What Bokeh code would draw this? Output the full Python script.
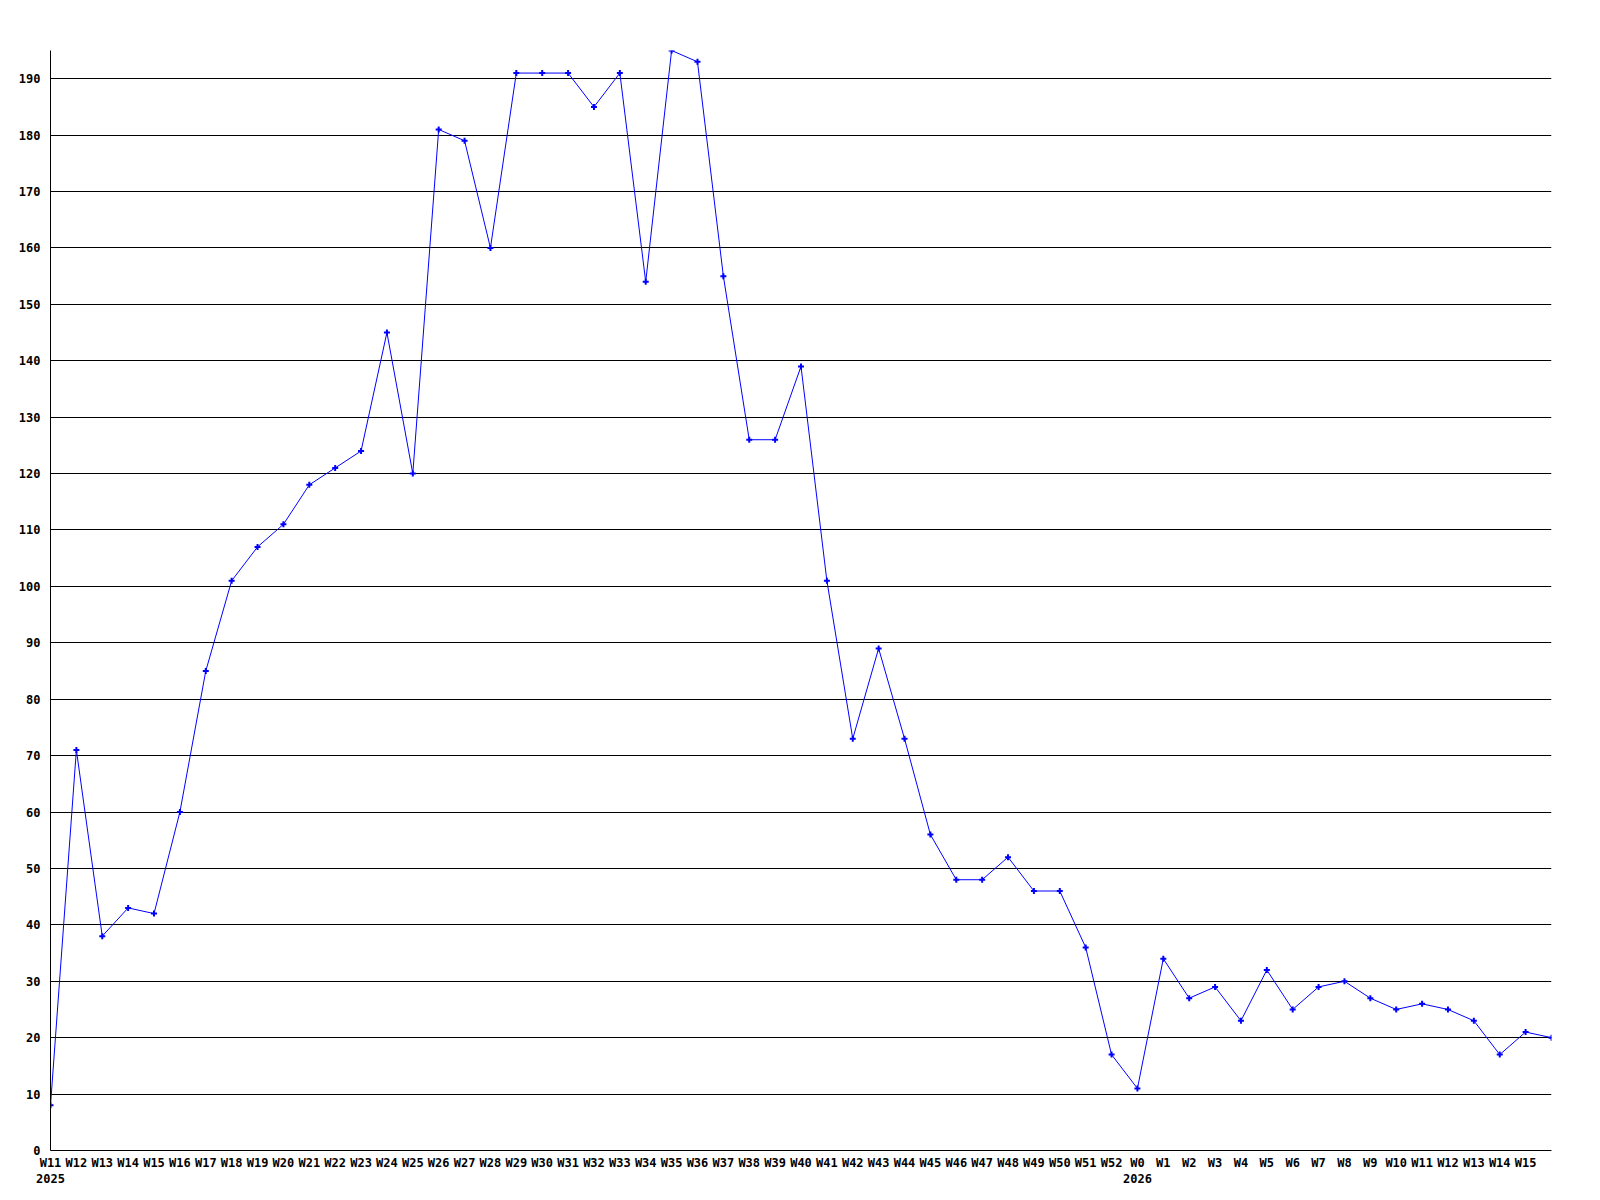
from bokeh.plotting import figure
from bokeh.models import FixedTicker, Range1d
from bokeh.embed import file_html
from bokeh.resources import INLINE

week_labels = ["W11\n2025", "W12", "W13", "W14", "W15", "W16", "W17", "W18", "W19", "W20",
               "W21", "W22", "W23", "W24", "W25", "W26", "W27", "W28", "W29", "W30",
               "W31", "W32", "W33", "W34", "W35", "W36", "W37", "W38", "W39", "W40",
               "W41", "W42", "W43", "W44", "W45", "W46", "W47", "W48", "W49", "W50",
               "W51", "W52", "W0\n2026", "W1", "W2", "W3", "W4", "W5", "W6", "W7",
               "W8", "W9", "W10", "W11", "W12", "W13", "W14", "W15", ""]

values = [8, 71, 38, 43, 42, 60, 85, 101, 107, 111,
          118, 121, 124, 145, 120, 181, 179, 160, 191, 191,
          191, 185, 191, 154, 195, 193, 155, 126, 126, 139,
          101, 73, 89, 73, 56, 48, 48, 52, 46, 46,
          36, 17, 11, 34, 27, 29, 23, 32, 25, 29,
          30, 27, 25, 26, 25, 23, 17, 21, 20]

y_ticks = list(range(0, 200, 10))

xs = list(range(len(values)))

p = figure(frame_width=1501, frame_height=1100,
           output_backend="svg", toolbar_location=None,
           x_range=Range1d(0, len(values) - 1), y_range=Range1d(0, max(values)),
           min_border_left=50, min_border_right=41, min_border_top=50, min_border_bottom=42)

p.outline_line_color = None
p.background_fill_color = "white"
p.border_fill_color = "white"

FONT = "DejaVu Sans Mono"

# y axis
p.yaxis.ticker = FixedTicker(ticks=y_ticks)
p.yaxis.major_tick_out = 0
p.yaxis.major_tick_in = 0
p.yaxis.minor_tick_out = 0
p.yaxis.minor_tick_in = 0
p.yaxis.major_label_standoff = 10
p.yaxis.axis_line_color = "black"
p.yaxis.axis_line_width = 1
p.yaxis.major_label_text_font = FONT
p.yaxis.major_label_text_font_style = "bold"
p.yaxis.major_label_text_font_size = "12px"
p.yaxis.major_label_text_color = "black"

# x axis
p.xaxis.ticker = FixedTicker(ticks=xs[:-1])
p.xaxis.major_label_overrides = {i: lab for i, lab in enumerate(week_labels)}
p.xaxis.major_tick_out = 0
p.xaxis.major_tick_in = 0
p.xaxis.minor_tick_out = 0
p.xaxis.minor_tick_in = 0
p.xaxis.major_label_standoff = 5
p.xaxis.axis_line_color = "black"
p.xaxis.major_label_text_font = FONT
p.xaxis.major_label_text_font_style = "bold"
p.xaxis.major_label_text_font_size = "12px"
p.xaxis.major_label_text_color = "black"

p.xgrid.grid_line_color = None
p.ygrid.ticker = FixedTicker(ticks=y_ticks[1:])
p.ygrid.grid_line_color = "black"
p.ygrid.grid_line_width = 1
p.ygrid.grid_line_alpha = 1.0

p.line(xs, values, line_color="#0000FF", line_width=1)
p.scatter(xs, values, marker="cross", size=6, line_color="#0000FF", line_width=2)

open("out.html", "w").write(file_html(p, INLINE))
